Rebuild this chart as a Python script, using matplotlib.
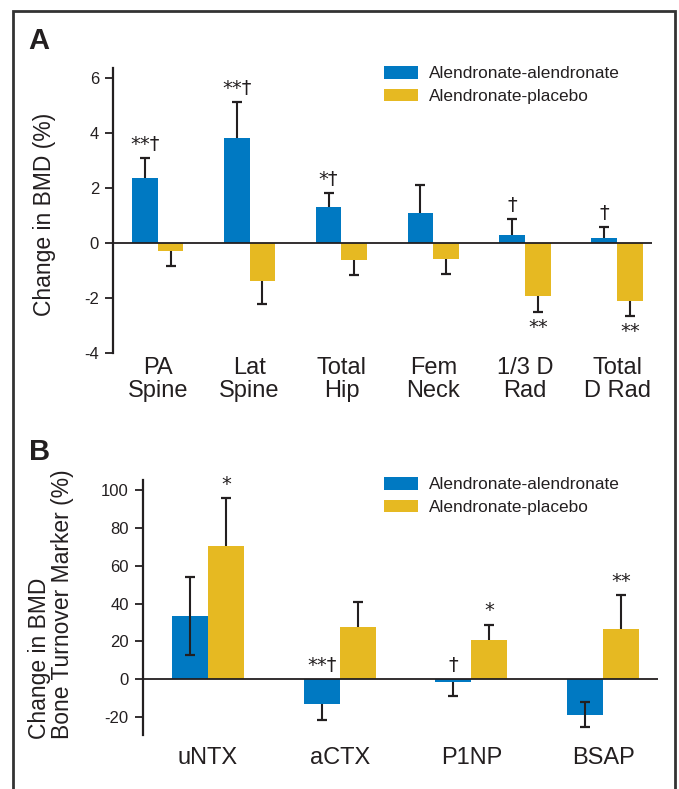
import matplotlib
matplotlib.use('Agg')
import matplotlib.pyplot as plt
from matplotlib import font_manager
from matplotlib.patches import Patch, Rectangle

# Panel A: change in BMD (%)
sites = ['PA\nSpine', 'Lat\nSpine', 'Total\nHip', 'Fem\nNeck', '1/3 D\nRad', 'Total\nD Rad']
bmd_aa = [2.36, 3.82, 1.31, 1.09, 0.29, 0.18]
bmd_aa_err = [0.73, 1.32, 0.50, 1.04, 0.58, 0.41]
bmd_ap = [-0.30, -1.37, -0.63, -0.59, -1.94, -2.12]
bmd_ap_err = [0.55, 0.83, 0.55, 0.55, 0.58, 0.55]
bmd_aa_sig = ['**†', '**†', '*†', '', '†', '†']
bmd_ap_sig = ['', '', '', '', '**', '**']

# Panel B: change in bone turnover markers (%)
markers = ['uNTX', 'aCTX', 'P1NP', 'BSAP']
btm_aa = [33.5, -12.9, -1.2, -18.7]
btm_aa_err = [20.5, 8.8, 7.8, 6.6]
btm_aa_both = [True, False, False, True]
btm_ap = [70.5, 27.7, 20.8, 26.6]
btm_ap_err = [25.5, 12.9, 8.1, 17.7]
btm_aa_sig = ['', '**†', '†', '']
btm_ap_sig = ['*', '', '*', '**']

labels = ['Alendronate-alendronate', 'Alendronate-placebo']
blue = '#0079C2'
yellow = '#E6B922'
ink = '#231F20'

names = {f.name for f in font_manager.fontManager.ttflist}
narrow = 'Liberation Sans Narrow' if 'Liberation Sans Narrow' in names else 'Liberation Sans'
plt.rcParams['font.family'] = ['Liberation Sans', 'DejaVu Sans']
plt.rcParams['text.color'] = ink

W, H = 679, 789
fig = plt.figure(figsize=(W / 100, H / 100), dpi=100)


def px_axes(l, t, r, b):
    return fig.add_axes([l / W, 1 - b / H, (r - l) / W, (b - t) / H])


def err_bar(ax, x, val, err, both=False):
    sign = 1 if val >= 0 else -1
    end = val + sign * err
    start = val - sign * err if both else val
    ax.plot([x, x], [start, end], color=ink, lw=1.5, zorder=4, solid_capstyle='butt')
    ax.plot([x], [end], marker='_', ms=7.5, mew=1.6, color=ink, zorder=4)
    if both:
        ax.plot([x], [start], marker='_', ms=7.5, mew=1.6, color=ink, zorder=4)
    return end


def sig(ax, x, y, txt, up):
    if not txt:
        return
    ax.annotate(txt, (x, y), xytext=(0, 3 if up else -4), textcoords='offset points',
                ha='center', va='bottom' if up else 'top', fontsize=14,
                family=['DejaVu Sans'], color=ink)


def style(ax, ylim, yticks, xlim, cats, pad):
    ax.set_xlim(*xlim)
    ax.set_ylim(*ylim)
    for s in ['top', 'right', 'bottom']:
        ax.spines[s].set_visible(False)
    ax.spines['left'].set_linewidth(1.6)
    ax.spines['left'].set_color(ink)
    ax.axhline(0, color=ink, lw=1.3, zorder=3)
    ax.set_yticks(yticks)
    ax.tick_params(axis='y', length=6, width=1.3, color=ink, labelsize=12, pad=4, labelcolor=ink)
    ax.set_xticks(range(len(cats)))
    ax.set_xticklabels(cats, fontsize=17, family=[narrow, 'DejaVu Sans'], linespacing=1.05)
    ax.tick_params(axis='x', length=0, pad=pad, labelcolor=ink)
    ax.patch.set_visible(False)


# ---- panel A
axA = px_axes(113, 68, 652, 353)
w = 0.28
for i in range(len(sites)):
    axA.bar(i - w / 2, bmd_aa[i], w, color=blue, zorder=2)
    axA.bar(i + w / 2, bmd_ap[i], w, color=yellow, zorder=2)
    e1 = err_bar(axA, i - w / 2, bmd_aa[i], bmd_aa_err[i])
    e2 = err_bar(axA, i + w / 2, bmd_ap[i], bmd_ap_err[i])
    sig(axA, i - w / 2, e1, bmd_aa_sig[i], bmd_aa[i] >= 0)
    sig(axA, i + w / 2, e2, bmd_ap_sig[i], bmd_ap[i] >= 0)
style(axA, (-4, 6.37), [-4, -2, 0, 2, 4, 6], (-0.486, 5.38), sites, 3)
axA.set_yticklabels(['-4', '-2', '0', '2', '4', '6'])

# ---- panel B
axB = px_axes(142.7, 480, 658, 735)
w = 0.273
for i in range(len(markers)):
    axB.bar(i - w / 2, btm_aa[i], w, color=blue, zorder=2)
    axB.bar(i + w / 2, btm_ap[i], w, color=yellow, zorder=2)
    e1 = err_bar(axB, i - w / 2, btm_aa[i], btm_aa_err[i], btm_aa_both[i])
    e2 = err_bar(axB, i + w / 2, btm_ap[i], btm_ap_err[i])
    sig(axB, i - w / 2, max(e1, 0), btm_aa_sig[i], True)
    sig(axB, i + w / 2, e2, btm_ap_sig[i], True)
style(axB, (-29.5, 105.4), [-20, 0, 20, 40, 60, 80, 100], (-0.496, 3.417), markers, 9)
axB.set_yticklabels(['-20', '0', '20', '40', '60', '80', '100'])

# legends
handles = [Patch(facecolor=blue), Patch(facecolor=yellow)]
for ax, top in [(axA, 66), (axB, 477)]:
    ax.legend(handles, labels, loc='upper left', bbox_to_anchor=(384 / W, 1 - top / H),
              bbox_transform=fig.transFigure, frameon=False, fontsize=12.4,
              handlelength=1.98, handleheight=0.76, handletextpad=0.64,
              labelspacing=0.42, borderpad=0, borderaxespad=0, labelcolor=ink)

# axis titles
fig.text(45 / W, 1 - 214 / H, 'Change in BMD (%)', rotation=90, ha='center', va='center',
         fontsize=16.5)
fig.text(51 / W, 1 - 604 / H, 'Change in BMD\nBone Turnover Marker (%)', rotation=90,
         ha='center', va='center', multialignment='left', linespacing=1.0, fontsize=16.5)

# panel letters
fig.text(28 / W, 1 - 49 / H, 'A', fontsize=21, fontweight='bold', va='baseline')
fig.text(29 / W, 1 - 460 / H, 'B', fontsize=21, fontweight='bold', va='baseline')

# frame
fig.patches.append(Rectangle((12.7 / W, -0.05), (675 - 12.7) / W, 1.05 - 10.7 / H,
                             transform=fig.transFigure, fill=False, lw=2, ec='#333333'))

fig.savefig('out.png', dpi=100)
